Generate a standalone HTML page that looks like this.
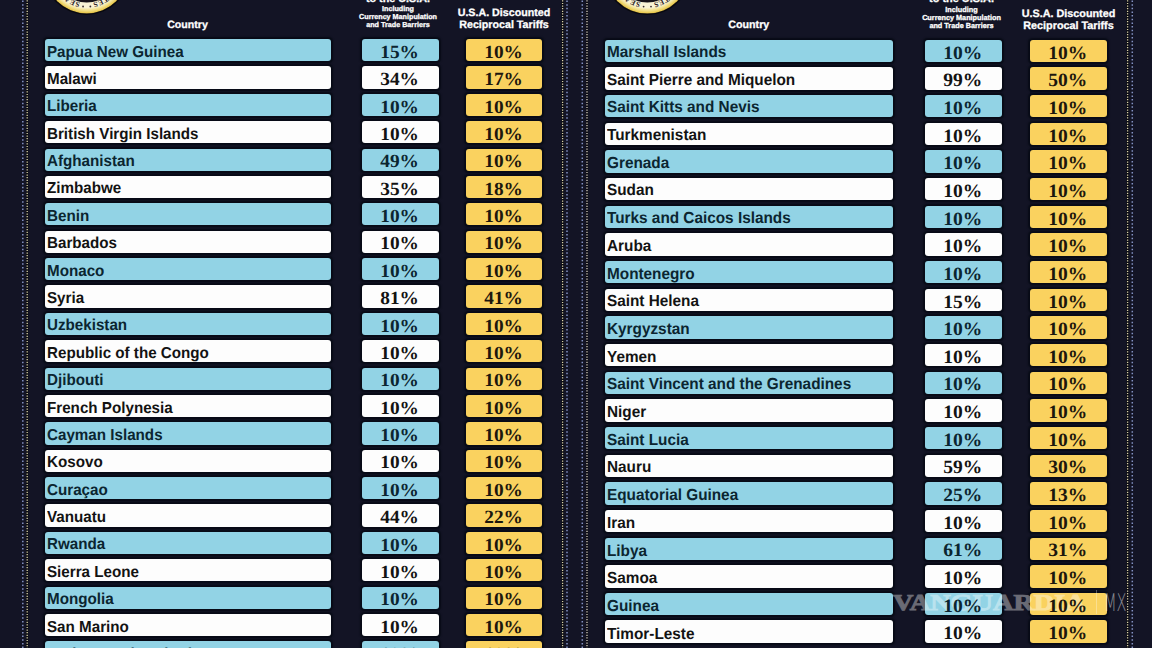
<!DOCTYPE html>
<html><head><meta charset="utf-8"><style>
*{margin:0;padding:0;box-sizing:border-box}
html,body{width:1152px;height:648px;overflow:hidden;background:#131425}
body{position:relative;text-rendering:geometricPrecision}
.r{position:absolute;border-radius:3px;box-shadow:0 0 1.5px 1.3px rgba(4,8,18,0.75);display:flex;align-items:center;white-space:nowrap;overflow:hidden}
.r.b{background:#92d3e5;color:#0b2530}
.r.w{background:#fdfdfd;color:#131313}
.r.y{background:#fad25f;color:#1d170d}
.c{font-family:"Liberation Sans",sans-serif;font-weight:bold;padding-left:2.1px}
.c span{display:inline-block;position:relative;z-index:3;top:2.9px;transform:scaleX(0.958);transform-origin:0 50%}
.n{font-family:"Liberation Serif",serif;font-weight:bold;justify-content:center}
.n span{display:inline-block;position:relative;z-index:3;top:2.7px;left:-0.8px;transform:scaleX(1.04)}
.h1,.h2,.h3{position:absolute;width:120px;text-align:center;color:#fff;font-family:"Liberation Sans",sans-serif;font-weight:bold;white-space:nowrap;-webkit-text-stroke:0.3px #fff}
.h3{font-family:"Liberation Serif",serif}
.dots{position:absolute;left:0;top:0}
.seal{position:absolute}
.wm{position:absolute;z-index:2;left:893.3px;top:587.7px;font-family:"Liberation Serif",serif;font-weight:bold;font-size:22.8px;line-height:30px;color:#fff;-webkit-text-stroke:0.9px #fff;opacity:0.37;white-space:nowrap;transform:scaleX(1.24);transform-origin:0 0}
.wmbar{position:absolute;z-index:2;left:1096.3px;top:590px;width:1px;height:24px;background:rgba(255,255,255,0.3)}
.wm2{position:absolute;z-index:2;left:1103.7px;top:588.5px;font-family:"DejaVu Sans",sans-serif;font-weight:200;font-size:24.3px;line-height:28px;color:rgba(255,255,255,0.5);transform:scaleX(0.6);transform-origin:0 0}
</style></head><body>
<svg class="dots" width="1152" height="648" viewBox="0 0 1152 648">
<line x1="22.8" y1="0.5" x2="22.8" y2="648" stroke="#8492c4" stroke-width="1.5" stroke-dasharray="1.5 2.15"/>
<line x1="27.2" y1="0" x2="27.2" y2="648" stroke="#0b0b10" stroke-width="2.2"/>
<line x1="27.2" y1="0.3" x2="27.2" y2="648" stroke="#d8d0a8" stroke-width="1.3" stroke-dasharray="1.2 1.4"/>
<line x1="562.6" y1="0" x2="562.6" y2="648" stroke="#0b0b10" stroke-width="2.2"/>
<line x1="562.6" y1="0.3" x2="562.6" y2="648" stroke="#d8d0a8" stroke-width="1.3" stroke-dasharray="1.2 1.4"/>
<line x1="567.0" y1="0.5" x2="567.0" y2="648" stroke="#8492c4" stroke-width="1.5" stroke-dasharray="1.5 2.15"/>
<line x1="582.3" y1="0.5" x2="582.3" y2="648" stroke="#8492c4" stroke-width="1.5" stroke-dasharray="1.5 2.15"/>
<line x1="587.0" y1="0" x2="587.0" y2="648" stroke="#0b0b10" stroke-width="2.2"/>
<line x1="587.0" y1="0.3" x2="587.0" y2="648" stroke="#d4ccc4" stroke-width="1.3" stroke-dasharray="1.2 1.4"/>
<line x1="1127.6" y1="0" x2="1127.6" y2="648" stroke="#0b0b10" stroke-width="2.2"/>
<line x1="1127.6" y1="0.3" x2="1127.6" y2="648" stroke="#d8d0a8" stroke-width="1.3" stroke-dasharray="1.2 1.4"/>
<line x1="1132.3" y1="0.5" x2="1132.3" y2="648" stroke="#8492c4" stroke-width="1.5" stroke-dasharray="1.5 2.15"/>
</svg>
<svg class="seal" style="left:42.9px;top:-72.1px" width="87" height="87" viewBox="-43.7 -43.7 87 87">
<defs><radialGradient id="g86" cx="0" cy="0" r="41.7" gradientUnits="userSpaceOnUse">
<stop offset="0.86" stop-color="#f8f3d6"/><stop offset="0.92" stop-color="#f3e292"/><stop offset="0.985" stop-color="#e9c94f"/><stop offset="1" stop-color="#b89a3a"/></radialGradient>
<path id="p86" d="M 0 31.34893617021277 A 31.34893617021277 31.34893617021277 0 1 1 0.01 31.34893617021277"/></defs>
<circle r="43.2" fill="#08080f"/>
<circle r="41.7" fill="url(#g86)"/>
<circle r="30.86" fill="#15121a"/>
<text font-family="Liberation Serif, serif" font-size="7.49" fill="#2e2226" font-weight="bold" letter-spacing="0.4"><textPath href="#p86" startOffset="6.51">SEAL · OF · THE · PRESIDENT</textPath></text>
<text font-family="Liberation Serif, serif" font-size="7.49" fill="#2e2226" font-weight="bold" letter-spacing="0.4" text-anchor="end"><textPath href="#p86" startOffset="190.5">OF · THE · UNITED · STATES</textPath></text>
<circle cx="-3.65" cy="34.80" r="0.9" fill="#3b2d2f"/><circle cx="3.65" cy="34.80" r="0.9" fill="#3b2d2f"/>
</svg>
<svg class="seal" style="left:602.9px;top:-73.0px" width="89" height="89" viewBox="-44.3 -44.3 89 89">
<defs><radialGradient id="g647" cx="0" cy="0" r="42.3" gradientUnits="userSpaceOnUse">
<stop offset="0.86" stop-color="#f8f3d6"/><stop offset="0.92" stop-color="#f3e292"/><stop offset="0.985" stop-color="#e9c94f"/><stop offset="1" stop-color="#b89a3a"/></radialGradient>
<path id="p647" d="M 0 31.8 A 31.8 31.8 0 1 1 0.01 31.8"/></defs>
<circle r="43.8" fill="#08080f"/>
<circle r="42.3" fill="url(#g647)"/>
<circle r="31.30" fill="#15121a"/>
<text font-family="Liberation Serif, serif" font-size="7.60" fill="#2e2226" font-weight="bold" letter-spacing="0.4"><textPath href="#p647" startOffset="6.60">SEAL · OF · THE · PRESIDENT</textPath></text>
<text font-family="Liberation Serif, serif" font-size="7.60" fill="#2e2226" font-weight="bold" letter-spacing="0.4" text-anchor="end"><textPath href="#p647" startOffset="193.2">OF · THE · UNITED · STATES</textPath></text>
<circle cx="-3.70" cy="35.30" r="0.9" fill="#3b2d2f"/><circle cx="3.70" cy="35.30" r="0.9" fill="#3b2d2f"/>
</svg>
<div class="h1" style="left:127.5px;top:18.5px;font-size:10.60px">Country</div>
<div class="h1" style="left:338px;top:-7.4px;font-size:10.80px;line-height:12px">to the U.S.A.</div>
<div class="h2" style="left:338px;top:5.0px;font-size:7.20px;line-height:8.10px">Including<br>Currency Manipulation<br>and Trade Barriers</div>
<div class="h1" style="left:444px;top:6.8px;font-size:10.70px;line-height:12.30px">U.S.A. Discounted<br>Reciprocal Tariffs</div>
<div class="h1" style="left:688.8px;top:19.3px;font-size:10.71px">Country</div>
<div class="h1" style="left:901.5px;top:-6.6px;font-size:10.91px;line-height:12px">to the U.S.A.</div>
<div class="h2" style="left:901.5px;top:5.8px;font-size:7.27px;line-height:8.18px">Including<br>Currency Manipulation<br>and Trade Barriers</div>
<div class="h1" style="left:1008.5px;top:7.6px;font-size:10.81px;line-height:12.42px">U.S.A. Discounted<br>Reciprocal Tariffs</div>
<div class="r b c" style="left:45.0px;top:39.00px;width:286.0px;height:22.2px;font-size:15.85px"><span style="top:2.50px">Papua New Guinea</span></div>
<div class="r b n" style="left:362.0px;top:39.00px;width:76.5px;height:22.2px;font-size:18.6px"><span style="top:2.70px">15%</span></div>
<div class="r y n" style="left:466.0px;top:39.00px;width:76.2px;height:22.2px;font-size:18.6px"><span style="top:2.70px">10%</span></div>
<div class="r w c" style="left:45.0px;top:66.38px;width:286.0px;height:22.2px;font-size:15.85px"><span style="top:2.50px">Malawi</span></div>
<div class="r w n" style="left:362.0px;top:66.38px;width:76.5px;height:22.2px;font-size:18.6px"><span style="top:2.70px">34%</span></div>
<div class="r y n" style="left:466.0px;top:66.38px;width:76.2px;height:22.2px;font-size:18.6px"><span style="top:2.70px">17%</span></div>
<div class="r b c" style="left:45.0px;top:93.76px;width:286.0px;height:22.2px;font-size:15.85px"><span style="top:2.50px">Liberia</span></div>
<div class="r b n" style="left:362.0px;top:93.76px;width:76.5px;height:22.2px;font-size:18.6px"><span style="top:2.70px">10%</span></div>
<div class="r y n" style="left:466.0px;top:93.76px;width:76.2px;height:22.2px;font-size:18.6px"><span style="top:2.70px">10%</span></div>
<div class="r w c" style="left:45.0px;top:121.14px;width:286.0px;height:22.2px;font-size:15.85px"><span style="top:2.50px">British Virgin Islands</span></div>
<div class="r w n" style="left:362.0px;top:121.14px;width:76.5px;height:22.2px;font-size:18.6px"><span style="top:2.70px">10%</span></div>
<div class="r y n" style="left:466.0px;top:121.14px;width:76.2px;height:22.2px;font-size:18.6px"><span style="top:2.70px">10%</span></div>
<div class="r b c" style="left:45.0px;top:148.52px;width:286.0px;height:22.2px;font-size:15.85px"><span style="top:2.50px">Afghanistan</span></div>
<div class="r b n" style="left:362.0px;top:148.52px;width:76.5px;height:22.2px;font-size:18.6px"><span style="top:2.70px">49%</span></div>
<div class="r y n" style="left:466.0px;top:148.52px;width:76.2px;height:22.2px;font-size:18.6px"><span style="top:2.70px">10%</span></div>
<div class="r w c" style="left:45.0px;top:175.90px;width:286.0px;height:22.2px;font-size:15.85px"><span style="top:2.50px">Zimbabwe</span></div>
<div class="r w n" style="left:362.0px;top:175.90px;width:76.5px;height:22.2px;font-size:18.6px"><span style="top:2.70px">35%</span></div>
<div class="r y n" style="left:466.0px;top:175.90px;width:76.2px;height:22.2px;font-size:18.6px"><span style="top:2.70px">18%</span></div>
<div class="r b c" style="left:45.0px;top:203.28px;width:286.0px;height:22.2px;font-size:15.85px"><span style="top:2.50px">Benin</span></div>
<div class="r b n" style="left:362.0px;top:203.28px;width:76.5px;height:22.2px;font-size:18.6px"><span style="top:2.70px">10%</span></div>
<div class="r y n" style="left:466.0px;top:203.28px;width:76.2px;height:22.2px;font-size:18.6px"><span style="top:2.70px">10%</span></div>
<div class="r w c" style="left:45.0px;top:230.66px;width:286.0px;height:22.2px;font-size:15.85px"><span style="top:2.50px">Barbados</span></div>
<div class="r w n" style="left:362.0px;top:230.66px;width:76.5px;height:22.2px;font-size:18.6px"><span style="top:2.70px">10%</span></div>
<div class="r y n" style="left:466.0px;top:230.66px;width:76.2px;height:22.2px;font-size:18.6px"><span style="top:2.70px">10%</span></div>
<div class="r b c" style="left:45.0px;top:258.04px;width:286.0px;height:22.2px;font-size:15.85px"><span style="top:2.50px">Monaco</span></div>
<div class="r b n" style="left:362.0px;top:258.04px;width:76.5px;height:22.2px;font-size:18.6px"><span style="top:2.70px">10%</span></div>
<div class="r y n" style="left:466.0px;top:258.04px;width:76.2px;height:22.2px;font-size:18.6px"><span style="top:2.70px">10%</span></div>
<div class="r w c" style="left:45.0px;top:285.42px;width:286.0px;height:22.2px;font-size:15.85px"><span style="top:2.50px">Syria</span></div>
<div class="r w n" style="left:362.0px;top:285.42px;width:76.5px;height:22.2px;font-size:18.6px"><span style="top:2.70px">81%</span></div>
<div class="r y n" style="left:466.0px;top:285.42px;width:76.2px;height:22.2px;font-size:18.6px"><span style="top:2.70px">41%</span></div>
<div class="r b c" style="left:45.0px;top:312.80px;width:286.0px;height:22.2px;font-size:15.85px"><span style="top:2.50px">Uzbekistan</span></div>
<div class="r b n" style="left:362.0px;top:312.80px;width:76.5px;height:22.2px;font-size:18.6px"><span style="top:2.70px">10%</span></div>
<div class="r y n" style="left:466.0px;top:312.80px;width:76.2px;height:22.2px;font-size:18.6px"><span style="top:2.70px">10%</span></div>
<div class="r w c" style="left:45.0px;top:340.18px;width:286.0px;height:22.2px;font-size:15.85px"><span style="top:2.50px">Republic of the Congo</span></div>
<div class="r w n" style="left:362.0px;top:340.18px;width:76.5px;height:22.2px;font-size:18.6px"><span style="top:2.70px">10%</span></div>
<div class="r y n" style="left:466.0px;top:340.18px;width:76.2px;height:22.2px;font-size:18.6px"><span style="top:2.70px">10%</span></div>
<div class="r b c" style="left:45.0px;top:367.56px;width:286.0px;height:22.2px;font-size:15.85px"><span style="top:2.50px">Djibouti</span></div>
<div class="r b n" style="left:362.0px;top:367.56px;width:76.5px;height:22.2px;font-size:18.6px"><span style="top:2.70px">10%</span></div>
<div class="r y n" style="left:466.0px;top:367.56px;width:76.2px;height:22.2px;font-size:18.6px"><span style="top:2.70px">10%</span></div>
<div class="r w c" style="left:45.0px;top:394.94px;width:286.0px;height:22.2px;font-size:15.85px"><span style="top:2.50px">French Polynesia</span></div>
<div class="r w n" style="left:362.0px;top:394.94px;width:76.5px;height:22.2px;font-size:18.6px"><span style="top:2.70px">10%</span></div>
<div class="r y n" style="left:466.0px;top:394.94px;width:76.2px;height:22.2px;font-size:18.6px"><span style="top:2.70px">10%</span></div>
<div class="r b c" style="left:45.0px;top:422.32px;width:286.0px;height:22.2px;font-size:15.85px"><span style="top:2.50px">Cayman Islands</span></div>
<div class="r b n" style="left:362.0px;top:422.32px;width:76.5px;height:22.2px;font-size:18.6px"><span style="top:2.70px">10%</span></div>
<div class="r y n" style="left:466.0px;top:422.32px;width:76.2px;height:22.2px;font-size:18.6px"><span style="top:2.70px">10%</span></div>
<div class="r w c" style="left:45.0px;top:449.70px;width:286.0px;height:22.2px;font-size:15.85px"><span style="top:2.50px">Kosovo</span></div>
<div class="r w n" style="left:362.0px;top:449.70px;width:76.5px;height:22.2px;font-size:18.6px"><span style="top:2.70px">10%</span></div>
<div class="r y n" style="left:466.0px;top:449.70px;width:76.2px;height:22.2px;font-size:18.6px"><span style="top:2.70px">10%</span></div>
<div class="r b c" style="left:45.0px;top:477.08px;width:286.0px;height:22.2px;font-size:15.85px"><span style="top:2.50px">Curaçao</span></div>
<div class="r b n" style="left:362.0px;top:477.08px;width:76.5px;height:22.2px;font-size:18.6px"><span style="top:2.70px">10%</span></div>
<div class="r y n" style="left:466.0px;top:477.08px;width:76.2px;height:22.2px;font-size:18.6px"><span style="top:2.70px">10%</span></div>
<div class="r w c" style="left:45.0px;top:504.46px;width:286.0px;height:22.2px;font-size:15.85px"><span style="top:2.50px">Vanuatu</span></div>
<div class="r w n" style="left:362.0px;top:504.46px;width:76.5px;height:22.2px;font-size:18.6px"><span style="top:2.70px">44%</span></div>
<div class="r y n" style="left:466.0px;top:504.46px;width:76.2px;height:22.2px;font-size:18.6px"><span style="top:2.70px">22%</span></div>
<div class="r b c" style="left:45.0px;top:531.84px;width:286.0px;height:22.2px;font-size:15.85px"><span style="top:2.50px">Rwanda</span></div>
<div class="r b n" style="left:362.0px;top:531.84px;width:76.5px;height:22.2px;font-size:18.6px"><span style="top:2.70px">10%</span></div>
<div class="r y n" style="left:466.0px;top:531.84px;width:76.2px;height:22.2px;font-size:18.6px"><span style="top:2.70px">10%</span></div>
<div class="r w c" style="left:45.0px;top:559.22px;width:286.0px;height:22.2px;font-size:15.85px"><span style="top:2.50px">Sierra Leone</span></div>
<div class="r w n" style="left:362.0px;top:559.22px;width:76.5px;height:22.2px;font-size:18.6px"><span style="top:2.70px">10%</span></div>
<div class="r y n" style="left:466.0px;top:559.22px;width:76.2px;height:22.2px;font-size:18.6px"><span style="top:2.70px">10%</span></div>
<div class="r b c" style="left:45.0px;top:586.60px;width:286.0px;height:22.2px;font-size:15.85px"><span style="top:2.50px">Mongolia</span></div>
<div class="r b n" style="left:362.0px;top:586.60px;width:76.5px;height:22.2px;font-size:18.6px"><span style="top:2.70px">10%</span></div>
<div class="r y n" style="left:466.0px;top:586.60px;width:76.2px;height:22.2px;font-size:18.6px"><span style="top:2.70px">10%</span></div>
<div class="r w c" style="left:45.0px;top:613.98px;width:286.0px;height:22.2px;font-size:15.85px"><span style="top:2.50px">San Marino</span></div>
<div class="r w n" style="left:362.0px;top:613.98px;width:76.5px;height:22.2px;font-size:18.6px"><span style="top:2.70px">10%</span></div>
<div class="r y n" style="left:466.0px;top:613.98px;width:76.2px;height:22.2px;font-size:18.6px"><span style="top:2.70px">10%</span></div>
<div class="r b c" style="left:45.0px;top:641.36px;width:286.0px;height:22.2px;font-size:15.85px"><span style="top:2.50px">Antigua and Barbuda</span></div>
<div class="r b n" style="left:362.0px;top:641.36px;width:76.5px;height:22.2px;font-size:18.6px"><span style="top:2.70px">10%</span></div>
<div class="r y n" style="left:466.0px;top:641.36px;width:76.2px;height:22.2px;font-size:18.6px"><span style="top:2.70px">10%</span></div>
<div class="r b c" style="left:604.8px;top:39.80px;width:288.0px;height:22.4px;font-size:16.0px"><span style="top:2.00px">Marshall Islands</span></div>
<div class="r b n" style="left:924.9px;top:39.80px;width:77.5px;height:22.4px;font-size:18.8px"><span style="top:2.70px">10%</span></div>
<div class="r y n" style="left:1030.2px;top:39.80px;width:77.0px;height:22.4px;font-size:18.8px"><span style="top:2.70px">10%</span></div>
<div class="r w c" style="left:604.8px;top:67.45px;width:288.0px;height:22.4px;font-size:16.0px"><span style="top:2.05px">Saint Pierre and Miquelon</span></div>
<div class="r w n" style="left:924.9px;top:67.45px;width:77.5px;height:22.4px;font-size:18.8px"><span style="top:2.70px">99%</span></div>
<div class="r y n" style="left:1030.2px;top:67.45px;width:77.0px;height:22.4px;font-size:18.8px"><span style="top:2.70px">50%</span></div>
<div class="r b c" style="left:604.8px;top:95.10px;width:288.0px;height:22.4px;font-size:16.0px"><span style="top:2.10px">Saint Kitts and Nevis</span></div>
<div class="r b n" style="left:924.9px;top:95.10px;width:77.5px;height:22.4px;font-size:18.8px"><span style="top:2.70px">10%</span></div>
<div class="r y n" style="left:1030.2px;top:95.10px;width:77.0px;height:22.4px;font-size:18.8px"><span style="top:2.70px">10%</span></div>
<div class="r w c" style="left:604.8px;top:122.75px;width:288.0px;height:22.4px;font-size:16.0px"><span style="top:2.15px">Turkmenistan</span></div>
<div class="r w n" style="left:924.9px;top:122.75px;width:77.5px;height:22.4px;font-size:18.8px"><span style="top:2.70px">10%</span></div>
<div class="r y n" style="left:1030.2px;top:122.75px;width:77.0px;height:22.4px;font-size:18.8px"><span style="top:2.70px">10%</span></div>
<div class="r b c" style="left:604.8px;top:150.40px;width:288.0px;height:22.4px;font-size:16.0px"><span style="top:2.20px">Grenada</span></div>
<div class="r b n" style="left:924.9px;top:150.40px;width:77.5px;height:22.4px;font-size:18.8px"><span style="top:2.70px">10%</span></div>
<div class="r y n" style="left:1030.2px;top:150.40px;width:77.0px;height:22.4px;font-size:18.8px"><span style="top:2.70px">10%</span></div>
<div class="r w c" style="left:604.8px;top:178.05px;width:288.0px;height:22.4px;font-size:16.0px"><span style="top:2.25px">Sudan</span></div>
<div class="r w n" style="left:924.9px;top:178.05px;width:77.5px;height:22.4px;font-size:18.8px"><span style="top:2.70px">10%</span></div>
<div class="r y n" style="left:1030.2px;top:178.05px;width:77.0px;height:22.4px;font-size:18.8px"><span style="top:2.70px">10%</span></div>
<div class="r b c" style="left:604.8px;top:205.70px;width:288.0px;height:22.4px;font-size:16.0px"><span style="top:2.30px">Turks and Caicos Islands</span></div>
<div class="r b n" style="left:924.9px;top:205.70px;width:77.5px;height:22.4px;font-size:18.8px"><span style="top:2.70px">10%</span></div>
<div class="r y n" style="left:1030.2px;top:205.70px;width:77.0px;height:22.4px;font-size:18.8px"><span style="top:2.70px">10%</span></div>
<div class="r w c" style="left:604.8px;top:233.35px;width:288.0px;height:22.4px;font-size:16.0px"><span style="top:2.35px">Aruba</span></div>
<div class="r w n" style="left:924.9px;top:233.35px;width:77.5px;height:22.4px;font-size:18.8px"><span style="top:2.70px">10%</span></div>
<div class="r y n" style="left:1030.2px;top:233.35px;width:77.0px;height:22.4px;font-size:18.8px"><span style="top:2.70px">10%</span></div>
<div class="r b c" style="left:604.8px;top:261.00px;width:288.0px;height:22.4px;font-size:16.0px"><span style="top:2.40px">Montenegro</span></div>
<div class="r b n" style="left:924.9px;top:261.00px;width:77.5px;height:22.4px;font-size:18.8px"><span style="top:2.70px">10%</span></div>
<div class="r y n" style="left:1030.2px;top:261.00px;width:77.0px;height:22.4px;font-size:18.8px"><span style="top:2.70px">10%</span></div>
<div class="r w c" style="left:604.8px;top:288.65px;width:288.0px;height:22.4px;font-size:16.0px"><span style="top:2.45px">Saint Helena</span></div>
<div class="r w n" style="left:924.9px;top:288.65px;width:77.5px;height:22.4px;font-size:18.8px"><span style="top:2.70px">15%</span></div>
<div class="r y n" style="left:1030.2px;top:288.65px;width:77.0px;height:22.4px;font-size:18.8px"><span style="top:2.70px">10%</span></div>
<div class="r b c" style="left:604.8px;top:316.30px;width:288.0px;height:22.4px;font-size:16.0px"><span style="top:2.50px">Kyrgyzstan</span></div>
<div class="r b n" style="left:924.9px;top:316.30px;width:77.5px;height:22.4px;font-size:18.8px"><span style="top:2.70px">10%</span></div>
<div class="r y n" style="left:1030.2px;top:316.30px;width:77.0px;height:22.4px;font-size:18.8px"><span style="top:2.70px">10%</span></div>
<div class="r w c" style="left:604.8px;top:343.95px;width:288.0px;height:22.4px;font-size:16.0px"><span style="top:2.55px">Yemen</span></div>
<div class="r w n" style="left:924.9px;top:343.95px;width:77.5px;height:22.4px;font-size:18.8px"><span style="top:2.70px">10%</span></div>
<div class="r y n" style="left:1030.2px;top:343.95px;width:77.0px;height:22.4px;font-size:18.8px"><span style="top:2.70px">10%</span></div>
<div class="r b c" style="left:604.8px;top:371.60px;width:288.0px;height:22.4px;font-size:16.0px"><span style="top:2.60px">Saint Vincent and the Grenadines</span></div>
<div class="r b n" style="left:924.9px;top:371.60px;width:77.5px;height:22.4px;font-size:18.8px"><span style="top:2.70px">10%</span></div>
<div class="r y n" style="left:1030.2px;top:371.60px;width:77.0px;height:22.4px;font-size:18.8px"><span style="top:2.70px">10%</span></div>
<div class="r w c" style="left:604.8px;top:399.25px;width:288.0px;height:22.4px;font-size:16.0px"><span style="top:2.65px">Niger</span></div>
<div class="r w n" style="left:924.9px;top:399.25px;width:77.5px;height:22.4px;font-size:18.8px"><span style="top:2.70px">10%</span></div>
<div class="r y n" style="left:1030.2px;top:399.25px;width:77.0px;height:22.4px;font-size:18.8px"><span style="top:2.70px">10%</span></div>
<div class="r b c" style="left:604.8px;top:426.90px;width:288.0px;height:22.4px;font-size:16.0px"><span style="top:2.70px">Saint Lucia</span></div>
<div class="r b n" style="left:924.9px;top:426.90px;width:77.5px;height:22.4px;font-size:18.8px"><span style="top:2.70px">10%</span></div>
<div class="r y n" style="left:1030.2px;top:426.90px;width:77.0px;height:22.4px;font-size:18.8px"><span style="top:2.70px">10%</span></div>
<div class="r w c" style="left:604.8px;top:454.55px;width:288.0px;height:22.4px;font-size:16.0px"><span style="top:2.75px">Nauru</span></div>
<div class="r w n" style="left:924.9px;top:454.55px;width:77.5px;height:22.4px;font-size:18.8px"><span style="top:2.70px">59%</span></div>
<div class="r y n" style="left:1030.2px;top:454.55px;width:77.0px;height:22.4px;font-size:18.8px"><span style="top:2.70px">30%</span></div>
<div class="r b c" style="left:604.8px;top:482.20px;width:288.0px;height:22.4px;font-size:16.0px"><span style="top:2.80px">Equatorial Guinea</span></div>
<div class="r b n" style="left:924.9px;top:482.20px;width:77.5px;height:22.4px;font-size:18.8px"><span style="top:2.70px">25%</span></div>
<div class="r y n" style="left:1030.2px;top:482.20px;width:77.0px;height:22.4px;font-size:18.8px"><span style="top:2.70px">13%</span></div>
<div class="r w c" style="left:604.8px;top:509.85px;width:288.0px;height:22.4px;font-size:16.0px"><span style="top:2.85px">Iran</span></div>
<div class="r w n" style="left:924.9px;top:509.85px;width:77.5px;height:22.4px;font-size:18.8px"><span style="top:2.70px">10%</span></div>
<div class="r y n" style="left:1030.2px;top:509.85px;width:77.0px;height:22.4px;font-size:18.8px"><span style="top:2.70px">10%</span></div>
<div class="r b c" style="left:604.8px;top:537.50px;width:288.0px;height:22.4px;font-size:16.0px"><span style="top:2.90px">Libya</span></div>
<div class="r b n" style="left:924.9px;top:537.50px;width:77.5px;height:22.4px;font-size:18.8px"><span style="top:2.70px">61%</span></div>
<div class="r y n" style="left:1030.2px;top:537.50px;width:77.0px;height:22.4px;font-size:18.8px"><span style="top:2.70px">31%</span></div>
<div class="r w c" style="left:604.8px;top:565.15px;width:288.0px;height:22.4px;font-size:16.0px"><span style="top:2.95px">Samoa</span></div>
<div class="r w n" style="left:924.9px;top:565.15px;width:77.5px;height:22.4px;font-size:18.8px"><span style="top:2.70px">10%</span></div>
<div class="r y n" style="left:1030.2px;top:565.15px;width:77.0px;height:22.4px;font-size:18.8px"><span style="top:2.70px">10%</span></div>
<div class="r b c" style="left:604.8px;top:592.80px;width:288.0px;height:22.4px;font-size:16.0px"><span style="top:3.00px">Guinea</span></div>
<div class="r b n" style="left:924.9px;top:592.80px;width:77.5px;height:22.4px;font-size:18.8px"><span style="top:2.70px">10%</span></div>
<div class="r y n" style="left:1030.2px;top:592.80px;width:77.0px;height:22.4px;font-size:18.8px"><span style="top:2.70px">10%</span></div>
<div class="r w c" style="left:604.8px;top:620.45px;width:288.0px;height:22.4px;font-size:16.0px"><span style="top:3.05px">Timor-Leste</span></div>
<div class="r w n" style="left:924.9px;top:620.45px;width:77.5px;height:22.4px;font-size:18.8px"><span style="top:2.70px">10%</span></div>
<div class="r y n" style="left:1030.2px;top:620.45px;width:77.0px;height:22.4px;font-size:18.8px"><span style="top:2.70px">10%</span></div>
<div class="wm">VANGUARDIA</div><div class="wmbar"></div><div class="wm2">MX</div>
</body></html>
